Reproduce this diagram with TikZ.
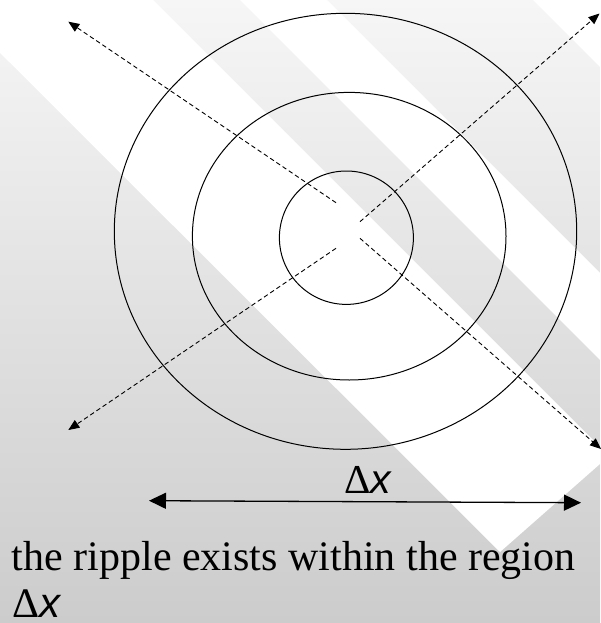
\documentclass[tikz,border=0pt]{standalone}
\usepackage{fontspec}
\setmainfont{Liberation Serif}
\newfontfamily\arialfont{Liberation Sans}
\usetikzlibrary{arrows.meta}
\definecolor{gtop}{RGB}{246,246,246}
\definecolor{gbot}{RGB}{204,204,204}
\begin{document}
\begin{tikzpicture}[x=1pt,y=-1pt,
  ring/.style={draw=black,line width=1pt},
  ray/.style={draw=black,line width=0.9pt,dash pattern=on 4.5pt off 3pt,-{Triangle[length=11pt,width=9pt]}},
  span/.style={draw=black,line width=1.3pt,{Triangle[length=17pt,width=16pt]}-{Triangle[length=17pt,width=16pt]}},
  lbl/.style={inner sep=0pt,outer sep=0pt,text=black}]
\useasboundingbox (0,0) rectangle (600,623);
% background
\begin{scope}
  \clip (0,0) rectangle (600,623);
  \shade[top color=gtop,bottom color=gbot] (0,0) rectangle (600,623);
  \fill[white] (-153,-100) -- (53,-100) -- (609,456) -- (500,552) -- cycle;
  \fill[white] (140,-100) -- (227,-100) -- (727,400) -- (640,400) -- cycle;
  \fill[white] (433,-100) -- (800,-100) -- (800,267) -- cycle;
\end{scope}
% rings
\draw[ring] (345.5,231.3) ellipse [x radius=231.2, y radius=218];
\draw[ring] (349.2,236.2) ellipse [x radius=156.8, y radius=143.8];
\draw[ring] (346.4,237.7) ellipse [x radius=67, y radius=66.7];
% rays
\coordinate (ulS) at (336,202.7);
\coordinate (ulE) at (68.3,21.7);
\coordinate (urS) at (360,221.7);
\coordinate (urE) at (599.5,13.5);
\coordinate (llS) at (336,248.3);
\coordinate (llE) at (68.3,430);
\coordinate (lrS) at (360,238.3);
\coordinate (lrE) at (601,449);
\draw[ray] (ulS) -- (ulE);
\draw[ray] (urS) -- (urE);
\draw[ray] (llS) -- (llE);
\draw[ray] (lrS) -- (lrE);
% span arrow
\coordinate (spL) at (149,500.7);
\coordinate (spR) at (581,502.7);
\draw[span] (spL) -- (spR);
\node[lbl,anchor=base] (dxlabel) at (367.5,493.3) {\fontsize{41}{48}\selectfont Δ{\arialfont\itshape x}};
% caption
\node[lbl,anchor=base west] (cap1) at (12,570.5) {\fontsize{42}{50}\selectfont the ripple exists within the region};
\node[lbl,anchor=base west] (cap2) at (12.5,617.5) {\fontsize{42}{50}\selectfont Δ{\arialfont\itshape x}};
\end{tikzpicture}
\end{document}
